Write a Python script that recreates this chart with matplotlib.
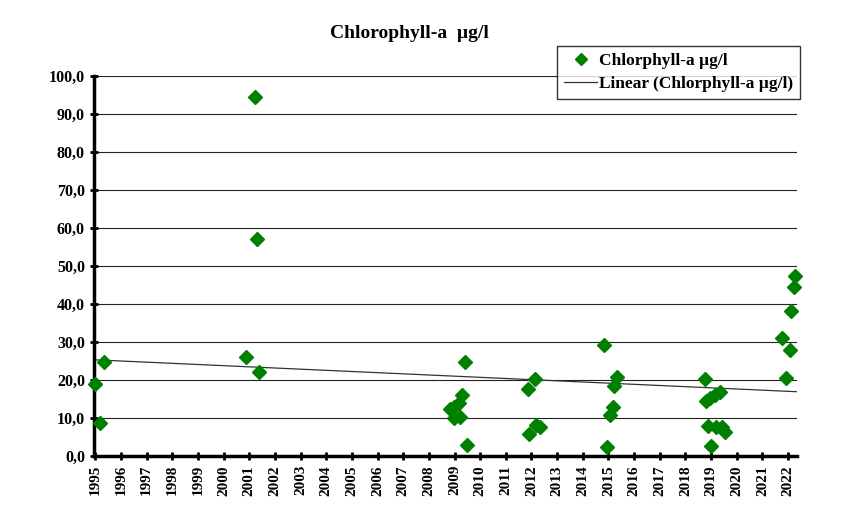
import numpy as np
import matplotlib
matplotlib.use("Agg")
import matplotlib.pyplot as plt
from matplotlib.ticker import FuncFormatter

# sample dates (decimal years) and chlorophyll-a values
years = [1995.00, 1995.19, 1995.35,
         2000.88, 2001.23, 2001.30, 2001.38,
         2008.84, 2008.97, 2009.16, 2009.23, 2009.29, 2009.40, 2009.49, 2008.97,
         2011.85, 2011.89, 2012.12, 2012.17, 2012.34,
         2014.81, 2014.93, 2015.07, 2015.16, 2015.23, 2015.32,
         2018.76, 2018.82, 2018.89, 2018.96, 2018.98, 2019.15, 2019.21,
         2019.35, 2019.41, 2019.54,
         2021.78, 2021.91, 2022.09, 2022.13, 2022.24, 2022.29]
chl = [19.0, 8.8, 24.7,
       26.0, 94.5, 57.0, 22.0,
       12.3, 9.9, 13.9, 10.3, 16.0, 24.8, 2.9, 12.8,
       17.5, 5.8, 20.2, 8.2, 7.7,
       29.2, 2.3, 10.8, 12.8, 18.5, 20.9,
       20.3, 14.5, 8.0, 15.2, 2.6, 16.0, 7.7,
       16.9, 7.5, 6.2,
       31.0, 20.6, 27.9, 38.2, 44.4, 47.4]

tick_years = list(range(1995, 2023))
y_ticks = np.arange(0, 101, 10)

plt.rcParams['font.family'] = ['Liberation Serif', 'DejaVu Serif']

fig = plt.figure(figsize=(8.47, 5.17), dpi=100)
ax = fig.add_axes([0.111, 0.118, 0.830, 0.735])

ax.plot(years, chl, linestyle='none', marker='D', markersize=7.5,
        color='#008000', clip_on=False, zorder=3, label='Chlorphyll-a µg/l')

# linear trend like excel's trendline
x0, x1 = 1995.0, 2022.35
coef = np.polyfit(years, chl, 1)
xs = np.array([x0, x1])
ax.plot(xs, np.polyval(coef, xs), color='#333333', linewidth=0.9,
        zorder=2, label='Linear (Chlorphyll-a µg/l)')

ax.set_xlim(x0 - 0.05, x1)
ax.set_ylim(0, 100)
ax.set_yticks(y_ticks)
ax.yaxis.set_major_formatter(FuncFormatter(lambda v, p: f"{v:.1f}".replace('.', ',')))
ax.set_xticks(tick_years)
ax.set_xticklabels([str(y) for y in tick_years], rotation=90)

ax.grid(axis='y', color='#222222', linewidth=0.8)
ax.set_axisbelow(True)
for s in ['top', 'right']:
    ax.spines[s].set_visible(False)
for s in ['left', 'bottom']:
    ax.spines[s].set_linewidth(2.5)
ax.tick_params(direction='inout', length=6, width=2)
for lab in ax.get_xticklabels():
    lab.set_fontweight('bold')
    lab.set_fontsize(11)
for lab in ax.get_yticklabels():
    lab.set_fontweight('bold')
    lab.set_fontsize(11.5)

fig.text(0.483, 0.936, 'Chlorophyll-a  µg/l', ha='center', va='center',
         fontsize=14, fontweight='bold')

leg = fig.legend(loc='upper left', bbox_to_anchor=(0.658, 0.911), frameon=True,
                 fancybox=False, edgecolor='black', borderpad=0.4,
                 handlelength=1.9, handletextpad=0.1, labelspacing=0.4,
                 borderaxespad=0, prop={'weight': 'bold', 'size': 12.5})
leg.get_frame().set_linewidth(1.0)
leg.legend_handles[0].set_markersize(6)

fig.savefig('out.png', dpi=100)
